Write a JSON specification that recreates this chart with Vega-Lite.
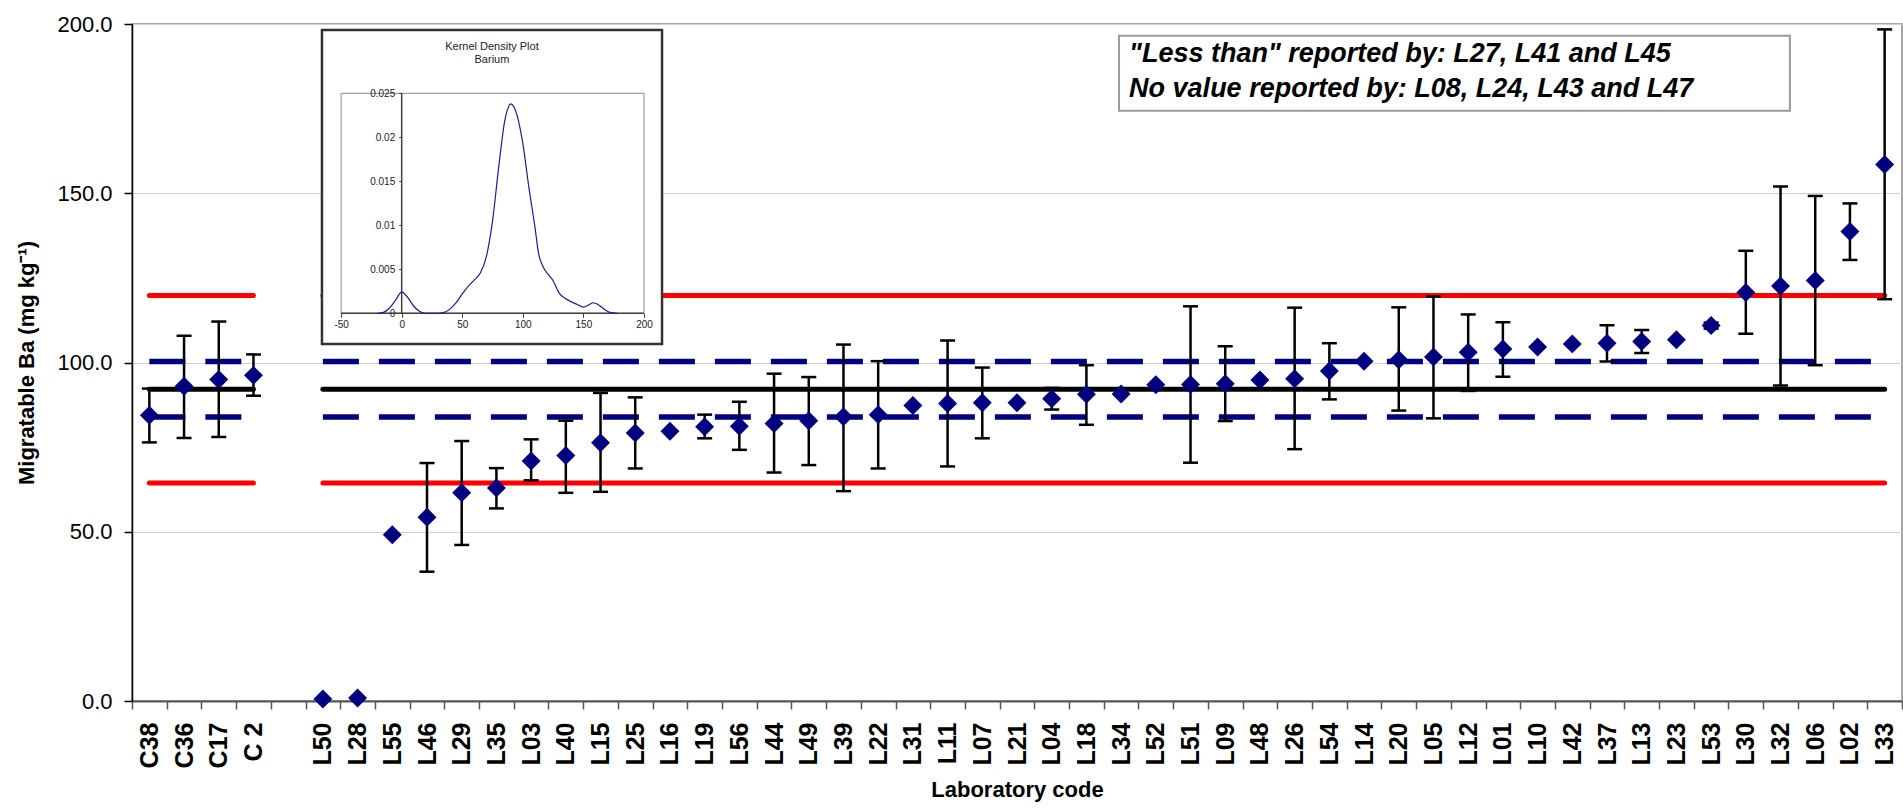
{
  "$schema": "https://vega.github.io/schema/vega-lite/v6.json",
  "width": 1770,
  "height": 677,
  "autosize": {"type": "none"},
  "padding": {"left": 132, "top": 24, "right": 1, "bottom": 108},
  "background": "white",
  "config": {"view": {"stroke": "#8c8c8c", "strokeWidth": 1.5}, "font": "Liberation Sans"},
  "datasets": {
    "labs": [
      {"lab": "C38", "value": 84.4, "lo": 76.4, "hi": 92.3},
      {"lab": "C36", "value": 93.0, "lo": 77.7, "hi": 107.9},
      {"lab": "C17", "value": 95.0, "lo": 78.0, "hi": 112.1},
      {"lab": "C 2", "value": 96.2, "lo": 90.2, "hi": 102.4},
      {"lab": "L50", "value": 0.6},
      {"lab": "L28", "value": 0.9},
      {"lab": "L55", "value": 49.1},
      {"lab": "L46", "value": 54.3, "lo": 38.2, "hi": 70.3},
      {"lab": "L29", "value": 61.5, "lo": 46.1, "hi": 76.8},
      {"lab": "L35", "value": 62.9, "lo": 56.9, "hi": 68.8},
      {"lab": "L03", "value": 70.9, "lo": 65.2, "hi": 77.3},
      {"lab": "L40", "value": 72.5, "lo": 61.5, "hi": 82.8},
      {"lab": "L15", "value": 76.3, "lo": 61.8, "hi": 91.0},
      {"lab": "L25", "value": 79.2, "lo": 68.7, "hi": 89.7},
      {"lab": "L16", "value": 79.7},
      {"lab": "L19", "value": 81.0, "lo": 77.6, "hi": 84.6},
      {"lab": "L56", "value": 81.2, "lo": 74.2, "hi": 88.4},
      {"lab": "L44", "value": 82.0, "lo": 67.5, "hi": 96.7},
      {"lab": "L49", "value": 82.8, "lo": 69.7, "hi": 95.7},
      {"lab": "L39", "value": 84.0, "lo": 62.0, "hi": 105.3},
      {"lab": "L22", "value": 84.6, "lo": 68.7, "hi": 100.4},
      {"lab": "L31", "value": 87.3},
      {"lab": "L11", "value": 87.9, "lo": 69.3, "hi": 106.5},
      {"lab": "L07", "value": 88.1, "lo": 77.6, "hi": 98.5},
      {"lab": "L21", "value": 88.1},
      {"lab": "L04", "value": 89.3, "lo": 86.1, "hi": 92.5},
      {"lab": "L18", "value": 90.6, "lo": 81.6, "hi": 99.2},
      {"lab": "L34", "value": 90.7},
      {"lab": "L52", "value": 93.4},
      {"lab": "L51", "value": 93.5, "lo": 70.4, "hi": 116.6},
      {"lab": "L09", "value": 93.7, "lo": 82.7, "hi": 104.8},
      {"lab": "L48", "value": 94.8},
      {"lab": "L26", "value": 95.2, "lo": 74.4, "hi": 116.2},
      {"lab": "L54", "value": 97.5, "lo": 89.1, "hi": 105.7},
      {"lab": "L14", "value": 100.4},
      {"lab": "L20", "value": 100.8, "lo": 85.8, "hi": 116.3},
      {"lab": "L05", "value": 101.6, "lo": 83.5, "hi": 119.5},
      {"lab": "L12", "value": 103.0, "lo": 91.6, "hi": 114.2},
      {"lab": "L01", "value": 104.0, "lo": 95.8, "hi": 111.9},
      {"lab": "L10", "value": 104.6},
      {"lab": "L42", "value": 105.5},
      {"lab": "L37", "value": 105.7, "lo": 100.3, "hi": 111.0},
      {"lab": "L13", "value": 106.2, "lo": 102.8, "hi": 109.6},
      {"lab": "L23", "value": 106.7},
      {"lab": "L53", "value": 110.9, "lo": 110.0, "hi": 111.8},
      {"lab": "L30", "value": 120.7, "lo": 108.5, "hi": 133.0},
      {"lab": "L32", "value": 122.6, "lo": 93.2, "hi": 152.0},
      {"lab": "L06", "value": 124.2, "lo": 99.2, "hi": 149.2},
      {"lab": "L02", "value": 138.7, "lo": 130.3, "hi": 147.0},
      {"lab": "L33", "value": 158.5, "lo": 118.7, "hi": 198.4}
    ],
    "refs": [
      {"seg": "C", "lab": "C38", "kind": "mean", "v": 92.1},
      {"seg": "C", "lab": "C 2", "kind": "mean", "v": 92.1},
      {"seg": "L", "lab": "L50", "kind": "mean", "v": 92.1},
      {"seg": "L", "lab": "L33", "kind": "mean", "v": 92.1},
      {"seg": "C", "lab": "C38", "kind": "upper2", "v": 119.8},
      {"seg": "C", "lab": "C 2", "kind": "upper2", "v": 119.8},
      {"seg": "L", "lab": "L50", "kind": "upper2", "v": 119.8},
      {"seg": "L", "lab": "L33", "kind": "upper2", "v": 119.8},
      {"seg": "C", "lab": "C38", "kind": "lower2", "v": 64.4},
      {"seg": "C", "lab": "C 2", "kind": "lower2", "v": 64.4},
      {"seg": "L", "lab": "L50", "kind": "lower2", "v": 64.4},
      {"seg": "L", "lab": "L33", "kind": "lower2", "v": 64.4},
      {"seg": "C", "lab": "C38", "kind": "upper1", "v": 100.3},
      {"seg": "C", "lab": "C 2", "kind": "upper1", "v": 100.3},
      {"seg": "L", "lab": "L50", "kind": "upper1", "v": 100.3},
      {"seg": "L", "lab": "L33", "kind": "upper1", "v": 100.3},
      {"seg": "C", "lab": "C38", "kind": "lower1", "v": 83.9},
      {"seg": "C", "lab": "C 2", "kind": "lower1", "v": 83.9},
      {"seg": "L", "lab": "L50", "kind": "lower1", "v": 83.9},
      {"seg": "L", "lab": "L33", "kind": "lower1", "v": 83.9}
    ],
    "kde": [
      {"x": -20, "d": 0.0},
      {"x": -15, "d": 0.0001},
      {"x": -10, "d": 0.0006},
      {"x": -5, "d": 0.0015},
      {"x": 0, "d": 0.0024},
      {"x": 5, "d": 0.0018},
      {"x": 10, "d": 0.0008},
      {"x": 15, "d": 0.0002},
      {"x": 20, "d": 0.0},
      {"x": 30, "d": 0.0},
      {"x": 35, "d": 0.0001},
      {"x": 40, "d": 0.0005},
      {"x": 45, "d": 0.0012},
      {"x": 50, "d": 0.0022},
      {"x": 55, "d": 0.0031},
      {"x": 60, "d": 0.0038},
      {"x": 65, "d": 0.0046},
      {"x": 70, "d": 0.0065},
      {"x": 75, "d": 0.0105},
      {"x": 80, "d": 0.0165},
      {"x": 85, "d": 0.0218},
      {"x": 88, "d": 0.0234},
      {"x": 90, "d": 0.0238},
      {"x": 92, "d": 0.0236},
      {"x": 95, "d": 0.0226},
      {"x": 100, "d": 0.0193},
      {"x": 105, "d": 0.0143},
      {"x": 110, "d": 0.0098},
      {"x": 113, "d": 0.0068},
      {"x": 117, "d": 0.0052},
      {"x": 121, "d": 0.0044},
      {"x": 125, "d": 0.0037},
      {"x": 130, "d": 0.0023},
      {"x": 135, "d": 0.0017},
      {"x": 140, "d": 0.0013},
      {"x": 145, "d": 0.0010},
      {"x": 150, "d": 0.0007},
      {"x": 155, "d": 0.0010},
      {"x": 158, "d": 0.0012},
      {"x": 162, "d": 0.0010},
      {"x": 167, "d": 0.0005},
      {"x": 172, "d": 0.0001},
      {"x": 178, "d": 0.0}
    ]
  },
  "layer": [
    {
      "encoding": {
        "x": {
          "field": "lab",
          "type": "nominal",
          "scale": {
            "type": "band",
            "paddingInner": 0,
            "paddingOuter": 0,
            "domain": ["C38", "C36", "C17", "C 2", " ", "L50", "L28", "L55", "L46", "L29", "L35", "L03", "L40", "L15", "L25", "L16", "L19", "L56", "L44", "L49", "L39", "L22", "L31", "L11", "L07", "L21", "L04", "L18", "L34", "L52", "L51", "L09", "L48", "L26", "L54", "L14", "L20", "L05", "L12", "L01", "L10", "L42", "L37", "L13", "L23", "L53", "L30", "L32", "L06", "L02", "L33"]
          },
          "axis": {
            "title": "Laboratory code",
            "orient": "bottom",
            "labelAngle": -90,
            "labelFont": "Liberation Sans",
            "labelFontSize": 25,
            "labelFontWeight": "bold",
            "labelColor": "black",
            "labelPadding": 13,
            "labelOverlap": false,
            "tickSize": 8,
            "tickColor": "#555555",
            "tickWidth": 1.5,
            "tickBand": "extent",
            "domainColor": "#555555",
            "domainWidth": 2,
            "grid": false,
            "titleFont": "Liberation Sans",
            "titleFontSize": 22,
            "titleFontWeight": "bold",
            "titleColor": "black",
            "titlePadding": 12
          }
        }
      },
      "layer": [
        {
          "data": {"name": "refs"},
          "transform": [{"filter": "datum.kind == 'mean' || datum.kind == 'upper2' || datum.kind == 'lower2'"}],
          "mark": {"type": "line", "strokeWidth": 5, "strokeCap": "round"},
          "encoding": {
            "y": {
              "field": "v",
              "type": "quantitative",
              "title": "Migratable Ba (mg kg⁻¹)",
              "scale": {"domain": [0, 200], "nice": false, "zero": true},
              "axis": {
                "values": [0, 50, 100, 150, 200],
                "format": ".1f",
                "labelFont": "Liberation Sans",
                "labelFontSize": 22,
                "labelColor": "black",
                "labelPadding": 12,
                "tickSize": 8,
                "tickColor": "black",
                "tickWidth": 1.5,
                "domainColor": "black",
                "domainWidth": 1.5,
                "grid": true,
                "gridColor": "#d0d0d0",
                "gridWidth": 1,
                "titleFont": "Liberation Sans",
                "titleFontSize": 22,
                "titleFontWeight": "bold",
                "titleColor": "black",
                "titlePadding": 18
              }
            },
            "color": {
              "field": "kind",
              "type": "nominal",
              "scale": {"domain": ["mean", "upper2", "lower2"], "range": ["#000000", "#ff0000", "#ff0000"]},
              "legend": null
            },
            "detail": {"field": "seg", "type": "nominal"}
          }
        },
        {
          "data": {"name": "refs"},
          "transform": [{"filter": "datum.kind == 'upper1' || datum.kind == 'lower1'"}],
          "mark": {"type": "line", "strokeWidth": 5.5, "strokeDash": [36, 20], "strokeCap": "butt", "color": "#000080"},
          "encoding": {
            "y": {"field": "v", "type": "quantitative", "title": "Migratable Ba (mg kg⁻¹)"},
            "detail": {"field": "seg", "type": "nominal"},
            "strokeDash": {"field": "kind", "type": "nominal", "legend": null, "scale": {"domain": ["upper1", "lower1"], "range": [[36, 20], [36, 20]]}}
          }
        },
        {
          "data": {"name": "labs"},
          "transform": [{"filter": "isValid(datum.lo)"}],
          "mark": {"type": "rule", "color": "black", "strokeWidth": 2.5},
          "encoding": {
            "y": {"field": "lo", "type": "quantitative", "title": "Migratable Ba (mg kg⁻¹)"},
            "y2": {"field": "hi"}
          }
        },
        {
          "data": {"name": "labs"},
          "transform": [{"filter": "isValid(datum.lo)"}],
          "mark": {"type": "tick", "color": "black", "size": 15, "thickness": 2.5, "opacity": 1},
          "encoding": {
            "y": {"field": "lo", "type": "quantitative", "title": "Migratable Ba (mg kg⁻¹)"}
          }
        },
        {
          "data": {"name": "labs"},
          "transform": [{"filter": "isValid(datum.hi)"}],
          "mark": {"type": "tick", "color": "black", "size": 15, "thickness": 2.5, "opacity": 1},
          "encoding": {
            "y": {"field": "hi", "type": "quantitative", "title": "Migratable Ba (mg kg⁻¹)"}
          }
        },
        {
          "data": {"name": "labs"},
          "mark": {"type": "point", "shape": "diamond", "filled": true, "size": 360, "color": "#000080", "opacity": 1},
          "encoding": {
            "y": {"field": "value", "type": "quantitative", "title": "Migratable Ba (mg kg⁻¹)"}
          }
        }
      ]
    },
    {
      "data": {"values": [{}]},
      "encoding": {
        "x": {"type": "quantitative", "scale": {"domain": [0, 51], "nice": false, "zero": false}, "axis": null},
        "y": {"type": "quantitative", "scale": {"domain": [0, 200], "nice": false, "zero": false}, "axis": null}
      },
      "layer": [
        {
          "mark": {"type": "rect", "fill": "white", "stroke": "#9a9a9a", "strokeWidth": 2},
          "encoding": {
            "x": {"datum": 28.44, "type": "quantitative"},
            "x2": {"datum": 47.77},
            "y": {"datum": 196.54, "type": "quantitative"},
            "y2": {"datum": 174.39}
          }
        },
        {
          "mark": {"type": "text", "align": "left", "baseline": "alphabetic", "font": "Liberation Sans", "fontSize": 27, "fontWeight": "bold", "fontStyle": "italic", "color": "black"},
          "encoding": {
            "x": {"datum": 28.73, "type": "quantitative"},
            "y": {"datum": 188.69, "type": "quantitative"},
            "text": {"value": "\"Less than\" reported by: L27, L41 and L45"}
          }
        },
        {
          "mark": {"type": "text", "align": "left", "baseline": "alphabetic", "font": "Liberation Sans", "fontSize": 27, "fontWeight": "bold", "fontStyle": "italic", "color": "black"},
          "encoding": {
            "x": {"datum": 28.73, "type": "quantitative"},
            "y": {"datum": 178.35, "type": "quantitative"},
            "text": {"value": "No value reported by: L08, L24, L43 and L47"}
          }
        }
      ]
    },
    {
      "encoding": {
        "x": {
          "type": "quantitative",
          "scale": {"domain": [-222.6, 1238.4], "nice": false, "zero": false},
          "axis": {
            "orient": "bottom",
            "offset": -387.7,
            "values": [-50, 0, 50, 100, 150, 200],
            "labelExpr": "datum.value < 0 ? '-' + toString(-datum.value) : toString(datum.value)",
            "domain": false,
            "grid": false,
            "tickSize": 4,
            "tickColor": "#404040",
            "labelFont": "Liberation Sans",
            "labelFontSize": 10,
            "labelColor": "#222222",
            "labelPadding": 2,
            "labelAngle": 0,
            "labelFlush": false,
            "labelOverlap": false,
            "title": null,
            "zindex": 1
          }
        },
        "y": {
          "type": "quantitative",
          "scale": {"domain": [-0.044057, 0.032875], "nice": false, "zero": false},
          "axis": {
            "orient": "left",
            "offset": -269.7,
            "values": [0, 0.005, 0.01, 0.015, 0.02, 0.025],
            "format": ".3~f",
            "domain": false,
            "grid": false,
            "tickSize": 3,
            "tickColor": "#404040",
            "labelFont": "Liberation Sans",
            "labelFontSize": 10,
            "labelColor": "#222222",
            "labelPadding": 4,
            "labelFlush": false,
            "labelOverlap": false,
            "title": null,
            "zindex": 1
          }
        }
      },
      "layer": [
        {
          "data": {"values": [{}]},
          "mark": {"type": "rect", "fill": "white", "stroke": "#333333", "strokeWidth": 2.5},
          "encoding": {
            "x": {"datum": -65.8, "type": "quantitative"},
            "x2": {"datum": 214.9},
            "y": {"datum": 0.03219, "type": "quantitative"},
            "y2": {"datum": -0.003489}
          }
        },
        {
          "data": {"values": [{}]},
          "mark": {"type": "rect", "fill": null, "fillOpacity": 0, "stroke": "#8a8a8a", "strokeWidth": 1},
          "encoding": {
            "x": {"datum": -50, "type": "quantitative"},
            "x2": {"datum": 200},
            "y": {"datum": 0.025, "type": "quantitative"},
            "y2": {"datum": 0}
          }
        },
        {
          "data": {"values": [{}]},
          "mark": {"type": "rule", "color": "#404040", "strokeWidth": 1.5},
          "encoding": {
            "x": {"datum": 0, "type": "quantitative"},
            "y": {"datum": 0, "type": "quantitative"},
            "y2": {"datum": 0.025}
          }
        },
        {
          "data": {"values": [{}]},
          "mark": {"type": "rule", "color": "#404040", "strokeWidth": 1.5},
          "encoding": {
            "x": {"datum": -50, "type": "quantitative"},
            "x2": {"datum": 200},
            "y": {"datum": 0, "type": "quantitative"}
          }
        },
        {
          "data": {"name": "kde"},
          "mark": {"type": "line", "color": "#1a1aa6", "strokeWidth": 1.2, "interpolate": "monotone"},
          "encoding": {
            "x": {"field": "x", "type": "quantitative"},
            "y": {"field": "d", "type": "quantitative"}
          }
        },
        {
          "data": {"values": [{}]},
          "mark": {"type": "text", "align": "center", "baseline": "middle", "font": "Liberation Sans", "fontSize": 11, "color": "#222222"},
          "encoding": {
            "x": {"datum": 74.5, "type": "quantitative"},
            "y": {"datum": 0.0303, "type": "quantitative"},
            "text": {"value": "Kernel Density Plot"}
          }
        },
        {
          "data": {"values": [{}]},
          "mark": {"type": "text", "align": "center", "baseline": "middle", "font": "Liberation Sans", "fontSize": 11, "color": "#222222"},
          "encoding": {
            "x": {"datum": 74.5, "type": "quantitative"},
            "y": {"datum": 0.02875, "type": "quantitative"},
            "text": {"value": "Barium"}
          }
        }
      ]
    }
  ],
  "resolve": {
    "scale": {"x": "independent", "y": "independent", "color": "independent", "strokeDash": "independent"},
    "axis": {"x": "independent", "y": "independent"}
  }
}
